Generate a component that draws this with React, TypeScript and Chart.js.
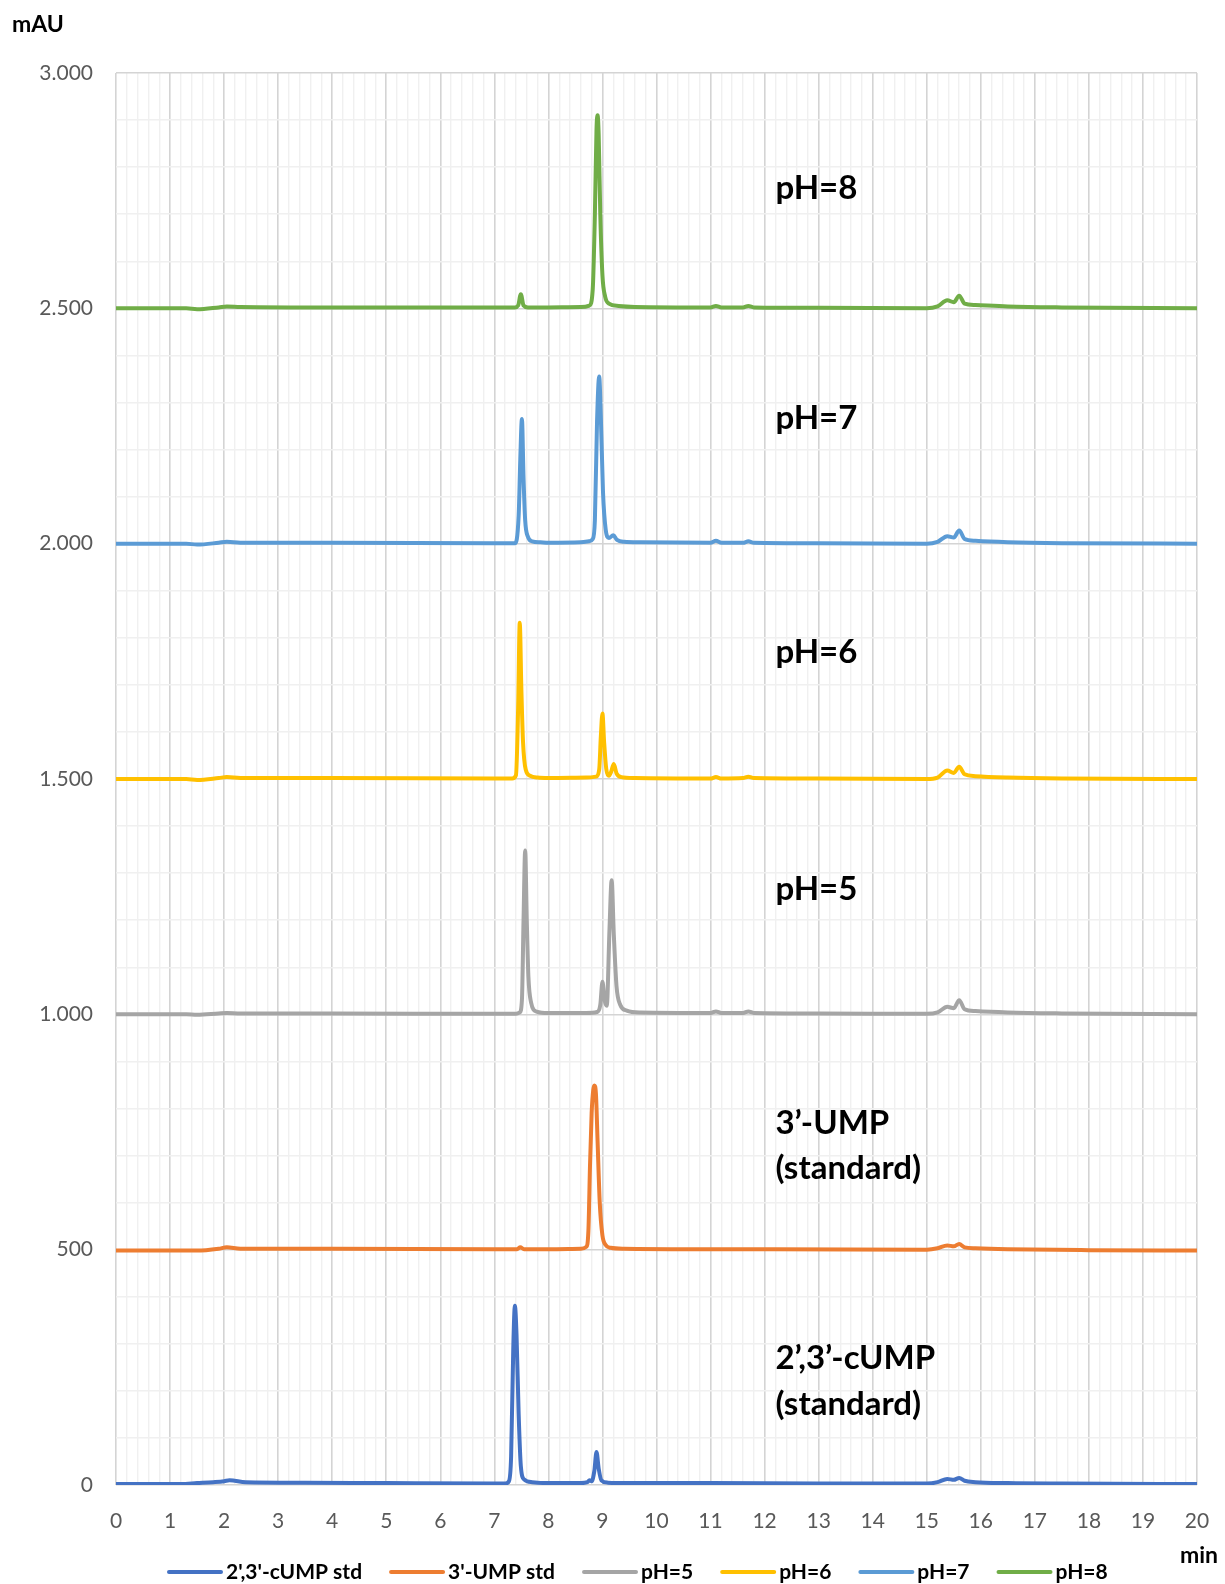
import { useEffect, useRef } from 'react';
import { Chart, registerables } from 'chart.js';

Chart.register(...registerables);

const FONT = 'Lato, "Open Sans", "Liberation Sans", sans-serif';

// Retention time (min) and absorbance (mAU, traces stacked by 500 mAU)
const cumpTime = [0, 1.2, 1.5, 1.8, 2.0, 2.1, 2.4, 3.5, 5.0, 7.0, 7.2, 7.27, 7.31, 7.35, 7.38, 7.41, 7.45, 7.49, 7.55, 7.7, 8.0, 8.6, 8.72, 8.76, 8.8, 8.85, 8.89, 8.93, 8.98, 9.1, 9.5, 11.0, 13.0, 15.0, 15.2, 15.38, 15.5, 15.6, 15.7, 15.9, 16.5, 17.5, 20];
const cumpAbs = [2, 2, 4, 6, 8, 10, 6, 5, 4, 3, 3, 8, 60, 290, 381, 320, 150, 40, 12, 6, 4, 4, 6, 10, 8, 30, 70, 35, 10, 5, 4, 4, 3, 3, 6, 13, 11, 15, 9, 6, 4, 3, 2];

const umpTime = [0, 1.5, 1.9, 2.05, 2.3, 4.0, 7.0, 7.42, 7.48, 7.55, 8.0, 8.6, 8.7, 8.74, 8.77, 8.8, 8.83, 8.85, 8.88, 8.91, 8.95, 9.0, 9.06, 9.15, 9.4, 11.0, 15.0, 15.2, 15.38, 15.5, 15.6, 15.7, 15.9, 16.5, 18.0, 20];
const umpAbs = [498, 498, 502, 505, 502, 502, 501, 501, 505, 501, 501, 502, 506, 540, 680, 790, 840, 849, 830, 730, 600, 530, 510, 504, 502, 501, 500, 503, 509, 507, 512, 505, 503, 501, 499, 498];

const ph5Time = [0, 1.3, 1.5, 1.9, 2.05, 2.3, 4.0, 7.0, 7.4, 7.47, 7.51, 7.54, 7.57, 7.6, 7.63, 7.68, 7.78, 8.0, 8.7, 8.9, 8.96, 9.0, 9.04, 9.08, 9.13, 9.17, 9.21, 9.26, 9.33, 9.45, 9.7, 11.0, 11.1, 11.2, 11.6, 11.7, 11.8, 13.0, 15.0, 15.2, 15.38, 15.5, 15.6, 15.7, 15.9, 16.5, 17.5, 20];
const ph5Abs = [1000, 1000, 999, 1002, 1003, 1002, 1002, 1001, 1001, 1004, 1030, 1200, 1348, 1200, 1080, 1025, 1006, 1003, 1003, 1005, 1020, 1069, 1030, 1018, 1180, 1285, 1170, 1060, 1020, 1008, 1004, 1003, 1006, 1003, 1003, 1006, 1003, 1002, 1001, 1004, 1016, 1013, 1030, 1011, 1007, 1004, 1002, 1000];

const ph6Time = [0, 1.3, 1.5, 1.9, 2.05, 2.3, 4.0, 7.0, 7.33, 7.4, 7.44, 7.47, 7.5, 7.53, 7.58, 7.66, 7.8, 8.0, 8.7, 8.88, 8.94, 8.97, 9.0, 9.03, 9.07, 9.12, 9.16, 9.21, 9.26, 9.35, 9.6, 11.0, 11.1, 11.2, 11.6, 11.7, 11.8, 13.0, 15.0, 15.2, 15.38, 15.5, 15.6, 15.7, 15.9, 16.5, 17.5, 20];
const ph6Abs = [1500, 1500, 1498, 1502, 1504, 1502, 1502, 1501, 1501, 1508, 1650, 1832, 1690, 1580, 1520, 1507, 1503, 1502, 1503, 1505, 1520, 1590, 1639, 1580, 1522, 1507, 1515, 1532, 1512, 1504, 1502, 1501, 1504, 1501, 1502, 1505, 1502, 1501, 1500, 1503, 1518, 1513, 1526, 1510, 1506, 1503, 1501, 1500];

const ph7Time = [0, 1.3, 1.5, 1.9, 2.05, 2.3, 4.0, 7.0, 7.38, 7.45, 7.48, 7.51, 7.54, 7.57, 7.62, 7.7, 7.85, 8.0, 8.6, 8.75, 8.82, 8.86, 8.9, 8.94, 8.97, 9.01, 9.06, 9.12, 9.2, 9.27, 9.4, 9.7, 11.0, 11.1, 11.2, 11.6, 11.7, 11.8, 13.0, 15.0, 15.2, 15.38, 15.5, 15.6, 15.7, 15.9, 16.5, 17.5, 20];
const ph7Abs = [2000, 2000, 1998, 2002, 2004, 2002, 2002, 2001, 2001, 2060, 2180, 2265, 2140, 2050, 2015, 2005, 2003, 2002, 2003, 2005, 2010, 2050, 2260, 2355, 2270, 2110, 2030, 2012, 2018, 2008, 2004, 2003, 2002, 2006, 2002, 2002, 2005, 2002, 2001, 2000, 2004, 2016, 2013, 2028, 2010, 2006, 2003, 2001, 2000];

const ph8Time = [0, 1.3, 1.5, 1.9, 2.05, 2.3, 4.0, 7.0, 7.38, 7.44, 7.49, 7.54, 7.62, 7.8, 8.6, 8.76, 8.82, 8.86, 8.89, 8.91, 8.93, 8.96, 9.0, 9.05, 9.12, 9.3, 9.6, 11.0, 11.1, 11.2, 11.6, 11.7, 11.8, 13.0, 15.0, 15.2, 15.38, 15.5, 15.6, 15.7, 15.9, 16.5, 17.5, 20];
const ph8Abs = [2500, 2500, 2498, 2502, 2504, 2503, 2502, 2502, 2502, 2506, 2530, 2506, 2502, 2502, 2503, 2506, 2540, 2700, 2880, 2910, 2870, 2700, 2570, 2525, 2510, 2505, 2503, 2502, 2505, 2502, 2502, 2505, 2502, 2501, 2500, 2504, 2517, 2513, 2527, 2510, 2507, 2504, 2502, 2500];

const seriesLabels = ["2',3'-cUMP std", "3'-UMP std", 'pH=5', 'pH=6', 'pH=7', 'pH=8'];
const seriesColors = ['#4472C4', '#ED7D31', '#A5A5A5', '#FFC000', '#5B9BD5', '#70AD47'];
const seriesTimes = [cumpTime, umpTime, ph5Time, ph6Time, ph7Time, ph8Time];
const seriesValues = [cumpAbs, umpAbs, ph5Abs, ph6Abs, ph7Abs, ph8Abs];

// Trace annotations: text, time (min), level (mAU)
const noteTexts = ['pH=8', 'pH=7', 'pH=6', 'pH=5', '3’-UMP', '(standard)', '2’,3’-cUMP', '(standard)'];
const noteTimes = [12.2, 12.2, 12.2, 12.2, 12.2, 12.2, 12.2, 12.2];
const noteLevels = [2755, 2266, 1769, 1265, 768, 672, 270, 172];

const yUnit = 'mAU';
const xUnit = 'min';

const formatThousands = (v: number) =>
  String(Math.round(v)).replace(/\B(?=(\d{3})+(?!\d))/g, '.');

const isWhole = (v: number, step: number) =>
  Math.abs(v / step - Math.round(v / step)) < 1e-6;

const overlayPlugin = {
  id: 'overlayText',
  afterDraw(chart: any) {
    const { ctx, scales } = chart;
    ctx.save();
    ctx.fillStyle = '#000000';
    ctx.textBaseline = 'middle';
    ctx.textAlign = 'left';

    // axis units
    ctx.font = `bold 23px ${FONT}`;
    ctx.fillText(yUnit, 12, 25);
    ctx.fillText(xUnit, 1180, 1556);

    // trace annotations
    ctx.font = `bold 33px ${FONT}`;
    noteTexts.forEach((t, i) => {
      ctx.fillText(t, scales.x.getPixelForValue(noteTimes[i]), scales.y.getPixelForValue(noteLevels[i]));
    });

    // legend
    ctx.font = `bold 21px ${FONT}`;
    let x = 169;
    const y = 1572;
    chart.data.datasets.forEach((ds: any) => {
      ctx.strokeStyle = ds.borderColor;
      ctx.lineWidth = 4;
      ctx.lineCap = 'round';
      ctx.beginPath();
      ctx.moveTo(x, y);
      ctx.lineTo(x + 52, y);
      ctx.stroke();
      ctx.fillText(ds.label, x + 57, y);
      x += 57 + ctx.measureText(ds.label).width + 29;
    });
    ctx.restore();
  },
};

export default function App() {
  const canvasRef = useRef<HTMLCanvasElement | null>(null);

  useEffect(() => {
    document.body.style.margin = '0';
    const canvas = canvasRef.current;
    if (!canvas) return;

    const datasets = seriesLabels.map((label, i) => ({
      label,
      data: seriesTimes[i].map((t, j) => ({ x: t, y: seriesValues[i][j] })),
      borderColor: seriesColors[i],
      backgroundColor: seriesColors[i],
      borderWidth: 4,
      pointRadius: 0,
      fill: false,
      cubicInterpolationMode: 'monotone' as const,
      borderJoinStyle: 'round' as const,
      borderCapStyle: 'round' as const,
    }));

    const chart = new Chart(canvas, {
      type: 'line',
      data: { datasets },
      plugins: [overlayPlugin],
      options: {
        responsive: false,
        animation: false,
        devicePixelRatio: 1,
        layout: { padding: { top: 73, right: 28, left: 0, bottom: 0 } },
        plugins: {
          legend: { display: false },
          tooltip: { enabled: false },
        },
        scales: {
          x: {
            type: 'linear',
            min: 0,
            max: 20,
            border: { display: false },
            grid: {
              drawTicks: false,
              color: (ctx: any) => (ctx.tick && isWhole(ctx.tick.value, 1) ? '#d4d4d4' : '#f0f0f0'),
              lineWidth: (ctx: any) => (ctx.tick && isWhole(ctx.tick.value, 1) ? 1.6 : 1.4),
            },
            ticks: {
              stepSize: 0.2,
              maxTicksLimit: 500,
              autoSkip: false,
              maxRotation: 0,
              padding: 24,
              color: '#595959',
              font: { family: FONT, size: 21 },
              callback: (v: any) => (isWhole(Number(v), 1) ? String(Math.round(Number(v))) : ''),
            },
            afterFit: (scale: any) => {
              scale.height = 99;
              scale.paddingLeft = 0;
              scale.paddingRight = 0;
            },
          },
          y: {
            type: 'linear',
            min: 0,
            max: 3000,
            border: { display: false },
            grid: {
              drawTicks: false,
              color: (ctx: any) => (ctx.tick && isWhole(ctx.tick.value, 500) ? '#d4d4d4' : '#f0f0f0'),
              lineWidth: (ctx: any) => (ctx.tick && isWhole(ctx.tick.value, 500) ? 1.6 : 1.4),
            },
            ticks: {
              stepSize: 100,
              maxTicksLimit: 500,
              autoSkip: false,
              padding: 23,
              color: '#595959',
              font: { family: FONT, size: 21 },
              callback: (v: any) => (isWhole(Number(v), 500) ? formatThousands(Number(v)) : ''),
            },
            afterFit: (scale: any) => {
              scale.width = 116;
              scale.paddingTop = 0;
              scale.paddingBottom = 0;
            },
          },
        },
      },
    });

    return () => chart.destroy();
  }, []);

  return (
    <div style={{ width: 1225, height: 1584, position: 'relative', background: '#ffffff' }}>
      <canvas ref={canvasRef} width={1225} height={1584} />
    </div>
  );
}
